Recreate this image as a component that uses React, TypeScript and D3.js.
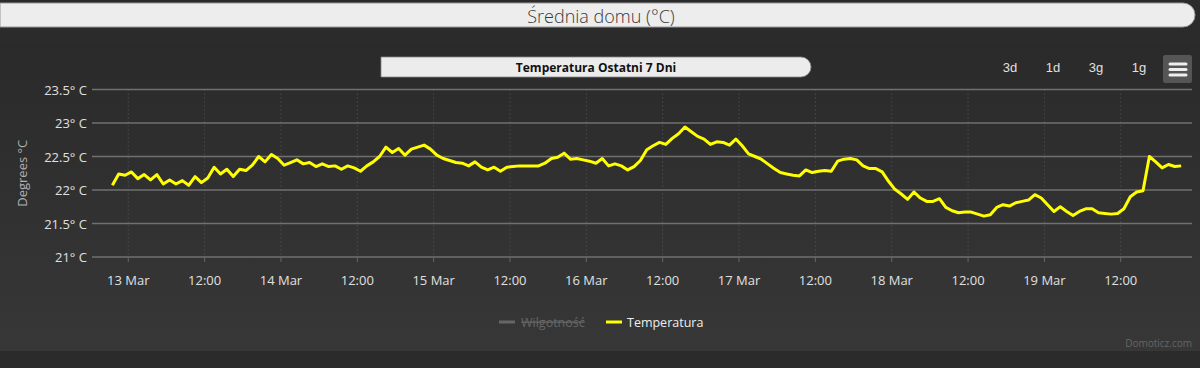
import React from "react";
import * as d3 from "d3";

// hourly readings (taken at hh:30), one array per day
const mar12 = [22.07, 22.24, 22.22];
const mar13 = [22.27, 22.17, 22.23, 22.15, 22.23, 22.09, 22.15, 22.09, 22.14, 22.07, 22.2, 22.11, 22.18, 22.34, 22.24, 22.31, 22.2, 22.31, 22.29, 22.37, 22.5, 22.42, 22.53, 22.47];
const mar14 = [22.37, 22.41, 22.45, 22.39, 22.41, 22.35, 22.39, 22.35, 22.36, 22.31, 22.36, 22.33, 22.28, 22.36, 22.42, 22.5, 22.64, 22.56, 22.62, 22.52, 22.61, 22.64, 22.67, 22.61];
const mar15 = [22.52, 22.47, 22.44, 22.41, 22.4, 22.36, 22.42, 22.34, 22.3, 22.34, 22.28, 22.34, 22.35, 22.36, 22.36, 22.36, 22.36, 22.4, 22.47, 22.49, 22.55, 22.46, 22.47, 22.45];
const mar16 = [22.43, 22.4, 22.47, 22.36, 22.39, 22.36, 22.3, 22.35, 22.44, 22.6, 22.66, 22.71, 22.68, 22.77, 22.84, 22.94, 22.87, 22.8, 22.76, 22.68, 22.72, 22.71, 22.67, 22.76];
const mar17 = [22.66, 22.54, 22.5, 22.46, 22.39, 22.32, 22.26, 22.24, 22.22, 22.21, 22.3, 22.26, 22.28, 22.29, 22.28, 22.43, 22.46, 22.47, 22.45, 22.36, 22.32, 22.32, 22.27, 22.13];
const mar18 = [22.01, 21.94, 21.86, 21.97, 21.88, 21.83, 21.83, 21.87, 21.74, 21.69, 21.66, 21.67, 21.67, 21.64, 21.61, 21.63, 21.74, 21.78, 21.76, 21.81, 21.83, 21.85, 21.93, 21.88];
const mar19 = [21.78, 21.68, 21.75, 21.68, 21.62, 21.68, 21.72, 21.72, 21.66, 21.65, 21.64, 21.65, 21.72, 21.9, 21.97, 21.99, 22.5, 22.42, 22.33, 22.38, 22.35, 22.36];

const firstReading = new Date(2023, 2, 12, 21, 30);
const yTicks = [21, 21.5, 22, 22.5, 23, 23.5];
const rangeButtons = ["3d", "1d", "3g", "1g"];

const W = 1200, H = 368;
const margin = { l: 92, r: 8, t: 89.5, b: 111 };

export default function App() {
  const temps = [...mar12, ...mar13, ...mar14, ...mar15, ...mar16, ...mar17, ...mar18, ...mar19];
  const data = temps.map((v, i) => ({ t: d3.timeHour.offset(firstReading, i), v }));

  const x = d3.scaleTime()
    .domain([new Date(2023, 2, 12, 18, 18), new Date(2023, 2, 19, 23, 12)])
    .range([margin.l, W - margin.r]);
  const y = d3.scaleLinear().domain([21, 23.5]).range([H - margin.b, margin.t]);
  const line = d3.line<{ t: Date; v: number }>().x(d => x(d.t)).y(d => y(d.v));

  const xTicks = x.ticks(d3.timeHour.every(12)!);
  const fmt = (d: Date) => d.getHours() === 0 ? d3.timeFormat("%-d %b")(d) : d3.timeFormat("%H:%M")(d);

  const font = "'Open Sans', 'DejaVu Sans', sans-serif";
  const bottom = H - margin.b;

  return (
    <svg width={W} height={H} style={{ position: "absolute", left: 0, top: 0, display: "block" }} fontFamily={font}>
      <defs>
        <linearGradient id="bg" x1="0" y1="0" x2="0" y2="1">
          <stop offset="0" stopColor="#2a2a2a" />
          <stop offset="1" stopColor="#373737" />
        </linearGradient>
      </defs>
      <rect x={0} y={0} width={W} height={H} fill="#2b2b2b" />
      <rect x={0} y={44} width={W} height={307} fill="url(#bg)" />

      {/* page header */}
      <path d={`M0,3 H1183 A12,12 0 0 1 1183,27 H0 Z`} fill="#ededed" stroke="#999" strokeWidth={1} />
      <text x={601} y={16} textAnchor="middle" dominantBaseline="central" fontSize={18} fill="#3a3a3a" fontWeight={300}>Średnia domu (°C)</text>

      {/* chart title */}
      <path d={`M381,57 H801 A10,10 0 0 1 801,77 H381 Z`} fill="#ececec" stroke="#888" strokeWidth={0.8} />
      <text x={596} y={67.5} textAnchor="middle" dominantBaseline="central" fontSize={12} fontWeight={700} fill="#111">Temperatura Ostatni 7 Dni</text>

      {/* range buttons */}
      {rangeButtons.map((b, i) => (
        <text key={b} x={1010 + i * 43} y={67} textAnchor="middle" dominantBaseline="central" fontSize={13}
          fontFamily="'Liberation Sans', Arial, sans-serif" fill="#e0e0e0">{b}</text>
      ))}
      <rect x={1163} y={55} width={29} height={28} rx={2} fill="#555" />
      {[64, 69.5, 75].map(yy => (
        <line key={yy} x1={1170} x2={1186} y1={yy} y2={yy} stroke="#eee" strokeWidth={3} strokeLinecap="round" />
      ))}

      {/* grid */}
      {xTicks.map(t => (
        <g key={+t}>
          <line x1={x(t)} x2={x(t)} y1={margin.t} y2={bottom} stroke="#5a5a5a" strokeDasharray="1,3" />
          <line x1={x(t)} x2={x(t)} y1={bottom} y2={bottom + 5} stroke="#666" />
          <text x={x(t)} y={280} textAnchor="middle" dominantBaseline="central" fontSize={13} fill="#e0e0e0">{fmt(t)}</text>
        </g>
      ))}
      {yTicks.map(v => (
        <g key={v}>
          <line x1={margin.l} x2={W - margin.r} y1={y(v)} y2={y(v)} stroke="#707070" strokeWidth={1.5} />
          <text x={87} y={y(v)} textAnchor="end" dominantBaseline="central" fontSize={13} fill="#e0e0e0">{`${v}° C`}</text>
        </g>
      ))}
      <text transform={`translate(22,${(margin.t + bottom) / 2}) rotate(-90)`} textAnchor="middle" dominantBaseline="central"
        fontSize={13} fill="#b0b0b0">Degrees °C</text>

      {/* series */}
      <path d={line(data) ?? ""} fill="none" stroke="#ffff00" strokeWidth={3} strokeLinejoin="round" />

      {/* legend */}
      <line x1={499} x2={515} y1={322} y2={322} stroke="#666" strokeWidth={3} />
      <text x={521} y={322} dominantBaseline="central" fontSize={12.5} fill="#666" textDecoration="line-through">Wilgotność</text>
      <line x1={606} x2={622} y1={322} y2={322} stroke="#ffff00" strokeWidth={3} />
      <text x={627} y={322} dominantBaseline="central" fontSize={12.5} fill="#eee">Temperatura</text>

      <text x={1192} y={343} textAnchor="end" dominantBaseline="central" fontSize={10} fill="#666">Domoticz.com</text>
    </svg>
  );
}
